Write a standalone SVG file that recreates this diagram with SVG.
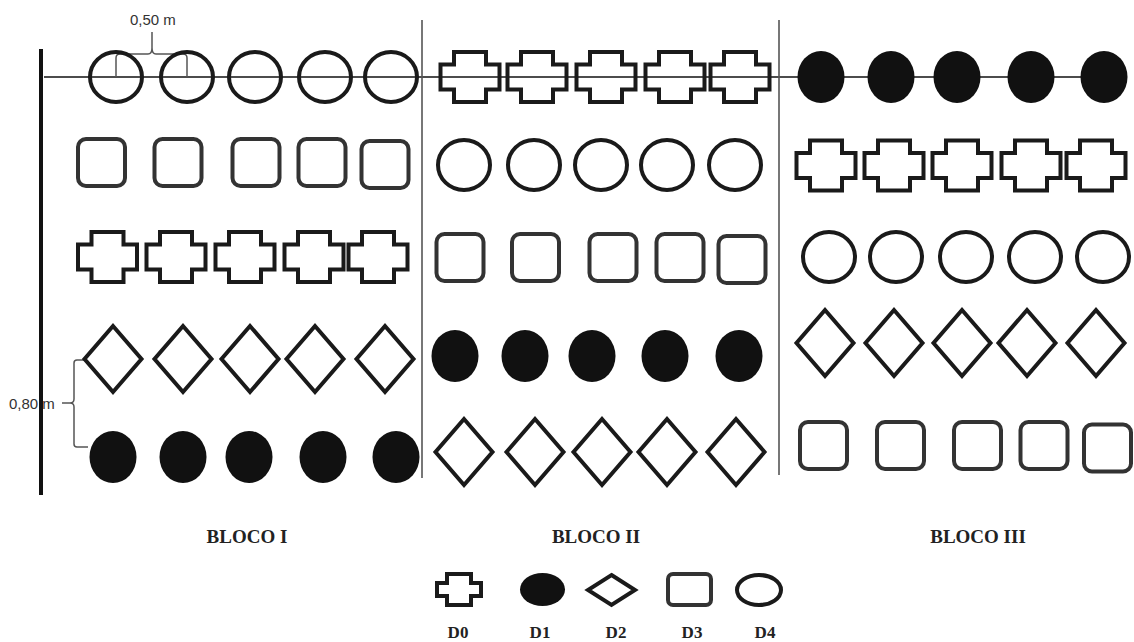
<svg xmlns="http://www.w3.org/2000/svg" xmlns:xlink="http://www.w3.org/1999/xlink" width="1134" height="642" viewBox="0 0 1134 642">
<style>
.o{fill:none;stroke:#1a1a1a;stroke-width:4}
.sq{fill:none;stroke:#333;stroke-width:4}
.f{fill:#111;stroke:none}
.ln{stroke:#111;stroke-width:1.3;fill:none}
.dv{stroke:#555;stroke-width:1.6;fill:none}
.br{stroke:#555;stroke-width:1.5;fill:none}
.lbl{font-family:"Liberation Sans",Arial,sans-serif;font-size:15px;fill:#333}
.blk{font-family:"Liberation Serif","Times New Roman",serif;font-weight:bold;font-size:19px;fill:#222;text-anchor:middle}
.leg{font-family:"Liberation Serif","Times New Roman",serif;font-weight:bold;font-size:17px;fill:#222;text-anchor:middle}
</style>
<defs>
<ellipse id="circ" class="o" cx="0" cy="0" rx="26" ry="25"/>
<ellipse id="dot" class="f" cx="0" cy="0" rx="23.5" ry="26"/>
<rect id="sqr" class="sq" x="-23.5" y="-23.5" width="47" height="47" rx="8"/>
<path id="cross" class="o" d="M-16,-25 H16 V-12.5 H29.5 V12.5 H16 V25 H-16 V12.5 H-29.5 V-12.5 H-16 Z"/>
<path id="dia" class="o" d="M0,-33 L28.5,0 L0,33 L-28.5,0 Z"/>
</defs>
<rect width="1134" height="642" fill="#fff"/>

<g id="connectors">
<line class="ln" x1="44" y1="77" x2="1126" y2="77"/>
<line x1="41" y1="49" x2="41" y2="495" stroke="#111" stroke-width="4"/>
<line class="dv" x1="422" y1="20" x2="422" y2="478"/>
<line class="dv" x1="779" y1="20" x2="779" y2="475"/>
<path class="br" d="M116,77 V58 Q116,54 120,54 H148 Q152,54 152,48 V32 M152,48 Q152,54 156,54 H183 Q187,54 187,58 V77"/>
<path class="br" d="M84,360 H77 Q74,360 74,363 V399 Q74,403 70,403 H62 M70,403 Q74,403 74,407 V444 Q74,447 77,447 H88"/>
</g>

<g id="labels">
<text class="lbl" x="130" y="25">0,50 m</text>
<text class="lbl" x="9" y="409">0,80 m</text>
<text class="blk" x="247" y="543">BLOCO I</text>
<text class="blk" x="596" y="543">BLOCO II</text>
<text class="blk" x="978" y="543">BLOCO III</text>
</g>

<g id="bloco1">
<g id="b1r1c1"><use href="#circ" x="116" y="77"/></g>
<g id="b1r1c2"><use href="#circ" x="187" y="77"/></g>
<g id="b1r1c3"><use href="#circ" x="255" y="77"/></g>
<g id="b1r1c4"><use href="#circ" x="325" y="77"/></g>
<g id="b1r1c5"><use href="#circ" x="391" y="77"/></g>
<g id="b1r2c1"><use href="#sqr" x="101.5" y="162.5"/></g>
<g id="b1r2c2"><use href="#sqr" x="178" y="162.5"/></g>
<g id="b1r2c3"><use href="#sqr" x="256" y="162.5"/></g>
<g id="b1r2c4"><use href="#sqr" x="322" y="162.5"/></g>
<g id="b1r2c5"><use href="#sqr" x="385" y="164.5"/></g>
<g id="b1r3c1"><use href="#cross" x="107.5" y="257"/></g>
<g id="b1r3c2"><use href="#cross" x="176" y="257"/></g>
<g id="b1r3c3"><use href="#cross" x="245" y="257"/></g>
<g id="b1r3c4"><use href="#cross" x="314" y="257"/></g>
<g id="b1r3c5"><use href="#cross" x="378" y="257"/></g>
<g id="b1r4c1"><use href="#dia" x="113" y="359"/></g>
<g id="b1r4c2"><use href="#dia" x="183" y="359"/></g>
<g id="b1r4c3"><use href="#dia" x="250" y="359"/></g>
<g id="b1r4c4"><use href="#dia" x="315" y="359"/></g>
<g id="b1r4c5"><use href="#dia" x="385" y="359"/></g>
<g id="b1r5c1"><use href="#dot" x="113" y="457"/></g>
<g id="b1r5c2"><use href="#dot" x="183" y="457"/></g>
<g id="b1r5c3"><use href="#dot" x="249" y="457"/></g>
<g id="b1r5c4"><use href="#dot" x="323" y="457"/></g>
<g id="b1r5c5"><use href="#dot" x="396" y="457"/></g>
</g>

<g id="bloco2">
<g id="b2r1c1"><use href="#cross" x="470" y="77"/></g>
<g id="b2r1c2"><use href="#cross" x="537" y="77"/></g>
<g id="b2r1c3"><use href="#cross" x="606" y="77"/></g>
<g id="b2r1c4"><use href="#cross" x="675" y="77"/></g>
<g id="b2r1c5"><use href="#cross" x="740" y="77"/></g>
<g id="b2r2c1"><use href="#circ" x="464" y="165"/></g>
<g id="b2r2c2"><use href="#circ" x="534" y="165"/></g>
<g id="b2r2c3"><use href="#circ" x="601" y="165"/></g>
<g id="b2r2c4"><use href="#circ" x="667" y="165"/></g>
<g id="b2r2c5"><use href="#circ" x="735" y="165"/></g>
<g id="b2r3c1"><use href="#sqr" x="460" y="257.5"/></g>
<g id="b2r3c2"><use href="#sqr" x="535.5" y="257.5"/></g>
<g id="b2r3c3"><use href="#sqr" x="613" y="257.5"/></g>
<g id="b2r3c4"><use href="#sqr" x="680" y="257.5"/></g>
<g id="b2r3c5"><use href="#sqr" x="742" y="259.5"/></g>
<g id="b2r4c1"><use href="#dot" x="455" y="356"/></g>
<g id="b2r4c2"><use href="#dot" x="525" y="356"/></g>
<g id="b2r4c3"><use href="#dot" x="592" y="356"/></g>
<g id="b2r4c4"><use href="#dot" x="665" y="356"/></g>
<g id="b2r4c5"><use href="#dot" x="739" y="356"/></g>
<g id="b2r5c1"><use href="#dia" x="464" y="452"/></g>
<g id="b2r5c2"><use href="#dia" x="535" y="452"/></g>
<g id="b2r5c3"><use href="#dia" x="602" y="452"/></g>
<g id="b2r5c4"><use href="#dia" x="667" y="452"/></g>
<g id="b2r5c5"><use href="#dia" x="736" y="452"/></g>
</g>

<g id="bloco3">
<g id="b3r1c1"><use href="#dot" x="821" y="77"/></g>
<g id="b3r1c2"><use href="#dot" x="891" y="77"/></g>
<g id="b3r1c3"><use href="#dot" x="957" y="77"/></g>
<g id="b3r1c4"><use href="#dot" x="1031" y="77"/></g>
<g id="b3r1c5"><use href="#dot" x="1104" y="77"/></g>
<g id="b3r2c1"><use href="#cross" x="826" y="165.5"/></g>
<g id="b3r2c2"><use href="#cross" x="894" y="165.5"/></g>
<g id="b3r2c3"><use href="#cross" x="962" y="165.5"/></g>
<g id="b3r2c4"><use href="#cross" x="1031" y="165.5"/></g>
<g id="b3r2c5"><use href="#cross" x="1096" y="165.5"/></g>
<g id="b3r3c1"><use href="#circ" x="829" y="257"/></g>
<g id="b3r3c2"><use href="#circ" x="896" y="257"/></g>
<g id="b3r3c3"><use href="#circ" x="966" y="257"/></g>
<g id="b3r3c4"><use href="#circ" x="1035" y="257"/></g>
<g id="b3r3c5"><use href="#circ" x="1103" y="257"/></g>
<g id="b3r4c1"><use href="#dia" x="825" y="343"/></g>
<g id="b3r4c2"><use href="#dia" x="894" y="343"/></g>
<g id="b3r4c3"><use href="#dia" x="962" y="343"/></g>
<g id="b3r4c4"><use href="#dia" x="1027" y="343"/></g>
<g id="b3r4c5"><use href="#dia" x="1096" y="343"/></g>
<g id="b3r5c1"><use href="#sqr" x="823.5" y="445.5"/></g>
<g id="b3r5c2"><use href="#sqr" x="900.5" y="445.5"/></g>
<g id="b3r5c3"><use href="#sqr" x="977.5" y="445.5"/></g>
<g id="b3r5c4"><use href="#sqr" x="1044" y="445.5"/></g>
<g id="b3r5c5"><use href="#sqr" x="1107.5" y="448"/></g>
</g>

<g id="legend">
<g id="leg-d0">
<path class="o" d="M447,574 H471 V583 H481 V596 H471 V605 H447 V596 H437 V583 H447 Z"/>
<text class="leg" x="458" y="638">D0</text>
</g>
<g id="leg-d1">
<ellipse class="f" cx="542.5" cy="589.5" rx="22.5" ry="16.5"/>
<text class="leg" x="540" y="638">D1</text>
</g>
<g id="leg-d2">
<path class="o" d="M611.5,575 L635,590 L611.5,605 L588,590 Z"/>
<text class="leg" x="616" y="638">D2</text>
</g>
<g id="leg-d3">
<rect class="sq" x="668" y="574" width="43" height="31" rx="5"/>
<text class="leg" x="692" y="638">D3</text>
</g>
<g id="leg-d4">
<ellipse class="o" cx="759" cy="590" rx="22" ry="15"/>
<text class="leg" x="765" y="638">D4</text>
</g>
</g>
</svg>
